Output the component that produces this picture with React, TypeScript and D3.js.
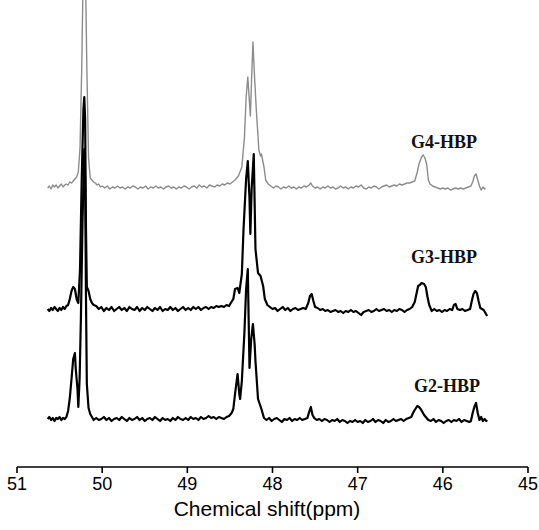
import React from "react";
import * as d3 from "d3";

const xTicks = [51, 50, 49, 48, 47, 46, 45];
const xTitle = "Chemical shift(ppm)";
const seriesNames = ["G4-HBP", "G3-HBP", "G2-HBP"];

// [ppm, intensity] (arbitrary units, baseline = 0)
const g4: [number, number][] = [
  [50.64,0],[50.62,2],[50.60,-1],[50.58,3],[50.56,1],[50.54,3],[50.52,0],[50.50,2],[50.48,4],[50.46,1],[50.44,3],[50.42,4],[50.40,3],[50.38,6],[50.36,5],[50.34,7],[50.32,9],[50.30,11],[50.28,16],[50.26,40],[50.24,120],[50.22,230],[50.21,260],[50.20,240],[50.18,120],[50.16,30],[50.14,10],[50.12,8],[50.10,6],[50.08,5],[50.06,3],[50.04,4],[50.02,1],[50.00,2],[49.97,0],[49.94,2],[49.91,-1],[49.88,1],[49.85,0],[49.82,2],[49.79,0],[49.76,1],[49.73,-1],[49.70,1],[49.67,0],[49.64,2],[49.61,1],[49.58,-1],[49.55,1],[49.52,0],[49.49,2],[49.46,-1],[49.43,1],[49.40,0],[49.37,2],[49.34,0],[49.31,1],[49.28,-1],[49.25,1],[49.22,2],[49.19,0],[49.16,1],[49.13,-1],[49.10,1],[49.07,0],[49.04,2],[49.01,1],[48.98,-1],[48.95,1],[48.92,2],[48.89,0],[48.86,3],[48.83,1],[48.80,2],[48.77,0],[48.74,3],[48.71,2],[48.68,1],[48.65,3],[48.62,2],[48.59,4],[48.56,3],[48.53,5],[48.50,4],[48.47,6],[48.44,8],[48.40,12],[48.36,21],[48.33,50],[48.31,90],[48.29,111],[48.27,85],[48.26,72],[48.245,110],[48.23,146],[48.21,110],[48.19,78],[48.16,38],[48.14,32],[48.13,34],[48.10,21],[48.08,8],[48.05,4],[48.02,2],[47.99,0],[47.96,2],[47.93,1],[47.90,-1],[47.87,1],[47.84,0],[47.81,2],[47.78,0],[47.75,1],[47.72,-1],[47.69,1],[47.66,0],[47.63,2],[47.60,1],[47.57,3],[47.55,5],[47.53,2],[47.50,0],[47.47,1],[47.44,-1],[47.41,1],[47.38,0],[47.35,2],[47.32,0],[47.29,1],[47.26,-1],[47.23,0],[47.20,2],[47.17,0],[47.14,1],[47.11,-1],[47.08,1],[47.05,0],[47.02,2],[46.99,1],[46.96,3],[46.93,0],[46.90,-1],[46.87,1],[46.84,0],[46.81,2],[46.78,1],[46.75,-1],[46.72,1],[46.69,2],[46.66,3],[46.63,1],[46.60,2],[46.57,3],[46.54,2],[46.51,4],[46.48,3],[46.45,4],[46.42,5],[46.39,5],[46.36,6],[46.33,7],[46.30,16],[46.28,24],[46.25,31],[46.23,33],[46.21,30],[46.19,24],[46.17,8],[46.15,4],[46.12,2],[46.09,1],[46.06,0],[46.03,-1],[46.00,0],[45.97,-1],[45.94,0],[45.91,-2],[45.88,-1],[45.85,0],[45.82,-1],[45.79,0],[45.76,-1],[45.73,0],[45.70,1],[45.67,2],[45.65,6],[45.63,12],[45.61,14],[45.59,8],[45.57,2],[45.55,-2],[45.53,1],[45.51,-1],[45.50,0]
];

const g3: [number, number][] = [
  [50.64,0],[50.62,-2],[50.60,1],[50.58,-1],[50.56,2],[50.54,0],[50.52,-2],[50.50,1],[50.48,-1],[50.46,2],[50.44,0],[50.42,3],[50.40,4],[50.38,10],[50.36,18],[50.34,22],[50.32,20],[50.30,10],[50.28,6],[50.26,40],[50.24,130],[50.22,200],[50.21,212],[50.20,190],[50.19,80],[50.18,22],[50.16,18],[50.14,10],[50.12,6],[50.10,4],[50.07,3],[50.04,0],[50.01,2],[49.98,-2],[49.95,1],[49.92,-1],[49.89,2],[49.86,-2],[49.83,0],[49.80,2],[49.77,-1],[49.74,1],[49.71,-2],[49.68,2],[49.65,0],[49.62,-1],[49.59,2],[49.56,-2],[49.53,1],[49.50,-1],[49.47,2],[49.44,0],[49.41,-2],[49.38,1],[49.35,-1],[49.32,2],[49.29,-2],[49.26,0],[49.23,-1],[49.20,2],[49.17,-1],[49.14,1],[49.11,-2],[49.08,0],[49.05,2],[49.02,-1],[48.99,1],[48.96,-1],[48.93,2],[48.90,0],[48.87,2],[48.84,-1],[48.81,1],[48.78,2],[48.75,0],[48.72,2],[48.69,1],[48.66,3],[48.63,2],[48.60,3],[48.57,2],[48.54,4],[48.51,3],[48.49,6],[48.46,10],[48.44,20],[48.41,21],[48.39,16],[48.36,35],[48.34,80],[48.31,130],[48.29,148],[48.27,110],[48.26,75],[48.245,120],[48.22,155],[48.20,60],[48.17,36],[48.14,33],[48.11,23],[48.09,10],[48.06,4],[48.03,2],[48.00,0],[47.97,1],[47.94,-2],[47.91,0],[47.88,2],[47.85,-1],[47.82,1],[47.79,-2],[47.76,0],[47.73,1],[47.70,-1],[47.67,0],[47.64,1],[47.61,0],[47.58,6],[47.56,13],[47.54,15],[47.52,8],[47.50,2],[47.47,1],[47.44,-1],[47.41,0],[47.38,-2],[47.35,-1],[47.32,-3],[47.29,-2],[47.26,-1],[47.23,-3],[47.20,-2],[47.17,-4],[47.14,-2],[47.11,-3],[47.08,-1],[47.05,-3],[47.02,-2],[46.99,-4],[46.96,-6],[46.93,-3],[46.90,-2],[46.87,-1],[46.84,-3],[46.81,-2],[46.78,0],[46.75,-2],[46.72,-1],[46.69,0],[46.66,-2],[46.63,-1],[46.60,-3],[46.57,-1],[46.54,-2],[46.51,0],[46.48,-1],[46.45,-3],[46.42,-1],[46.39,0],[46.36,2],[46.33,7],[46.31,15],[46.29,23],[46.27,24],[46.25,26],[46.22,25],[46.20,22],[46.18,12],[46.16,4],[46.13,-2],[46.10,0],[46.07,-2],[46.04,-1],[46.01,-3],[45.98,-1],[45.95,-2],[45.92,0],[45.89,-1],[45.87,4],[45.85,5],[45.83,0],[45.80,-1],[45.77,0],[45.74,-2],[45.71,-1],[45.68,0],[45.66,8],[45.64,15],[45.62,18],[45.60,16],[45.58,8],[45.56,1],[45.54,0],[45.52,-1],[45.50,-4],[45.48,-7]
];

const g2: [number, number][] = [
  [50.64,0],[50.62,2],[50.60,-1],[50.58,1],[50.56,-2],[50.54,1],[50.52,0],[50.50,2],[50.48,-1],[50.46,1],[50.44,0],[50.42,2],[50.40,8],[50.38,21],[50.36,40],[50.34,60],[50.32,66],[50.31,50],[50.29,30],[50.28,12],[50.265,40],[50.25,100],[50.23,200],[50.21,270],[50.20,240],[50.19,120],[50.18,35],[50.16,11],[50.14,5],[50.12,2],[50.10,-1],[50.07,1],[50.04,-1],[50.01,0],[49.98,2],[49.95,-1],[49.92,1],[49.89,-2],[49.86,0],[49.83,1],[49.80,-1],[49.77,2],[49.74,0],[49.71,-2],[49.68,1],[49.65,-1],[49.62,0],[49.59,2],[49.56,-1],[49.53,1],[49.50,-2],[49.47,0],[49.44,1],[49.41,-1],[49.38,2],[49.35,0],[49.32,-2],[49.29,1],[49.26,-1],[49.23,0],[49.20,-2],[49.17,1],[49.14,-1],[49.11,2],[49.08,0],[49.05,-1],[49.02,1],[48.99,-1],[48.96,2],[48.93,0],[48.90,1],[48.87,-1],[48.84,2],[48.81,0],[48.78,1],[48.75,3],[48.72,1],[48.69,2],[48.66,0],[48.63,2],[48.60,1],[48.57,0],[48.54,2],[48.51,3],[48.48,6],[48.46,10],[48.44,25],[48.41,45],[48.39,25],[48.38,20],[48.36,38],[48.33,86],[48.31,130],[48.29,150],[48.28,100],[48.27,51],[48.25,80],[48.23,95],[48.21,75],[48.20,58],[48.17,20],[48.15,15],[48.13,10],[48.10,1],[48.07,-1],[48.04,1],[48.01,-2],[47.98,0],[47.95,1],[47.92,-1],[47.89,-3],[47.86,0],[47.83,-1],[47.80,1],[47.77,-2],[47.74,0],[47.71,-1],[47.68,1],[47.65,-1],[47.62,0],[47.59,1],[47.57,7],[47.55,12],[47.53,4],[47.51,1],[47.48,-1],[47.45,0],[47.42,-2],[47.39,0],[47.36,-1],[47.33,-3],[47.30,-1],[47.27,-2],[47.24,0],[47.21,-3],[47.18,-1],[47.15,-2],[47.12,-4],[47.09,-2],[47.06,-3],[47.03,-1],[47.00,-3],[46.97,-2],[46.94,-4],[46.91,-1],[46.88,-3],[46.85,-2],[46.82,0],[46.79,-3],[46.76,-1],[46.73,-2],[46.70,-4],[46.67,-1],[46.64,-3],[46.61,-2],[46.58,0],[46.55,-2],[46.52,-1],[46.49,0],[46.46,-2],[46.43,0],[46.40,1],[46.37,2],[46.35,6],[46.33,9],[46.30,13],[46.28,12],[46.26,10],[46.24,7],[46.22,4],[46.19,1],[46.17,-1],[46.14,-2],[46.11,0],[46.08,-3],[46.05,-1],[46.02,-2],[45.99,-4],[45.96,-2],[45.93,-1],[45.90,-3],[45.87,-1],[45.84,-2],[45.81,0],[45.78,-3],[45.75,-1],[45.72,-2],[45.69,-3],[45.67,-2],[45.65,6],[45.63,12],[45.61,16],[45.59,6],[45.57,-1],[45.55,2],[45.53,-2],[45.51,0],[45.49,-2],[45.48,-1]
];

const W = 539;
const H = 530;

export default function App() {
  const x = d3.scaleLinear().domain([51, 45]).range([17, 528]);
  const axisY = 467;
  const traces = [
    { name: seriesNames[0], data: g4, base: 188, color: "#8c8c8c", width: 1.4, labelX: 411, labelY: 148 },
    { name: seriesNames[1], data: g3, base: 309, color: "#000", width: 2.2, labelX: 411, labelY: 263 },
    { name: seriesNames[2], data: g2, base: 419, color: "#000", width: 2.2, labelX: 414, labelY: 392 },
  ];
  return (
    <div style={{ position: "fixed", left: 0, top: 0 }}>
      <svg width={W} height={H} style={{ display: "block", background: "#fff" }}>
        {traces.map((t) => {
          const y = d3.scaleLinear().domain([0, 100]).range([t.base, t.base - 100]);
          const line = d3
            .line<[number, number]>()
            .x((d) => x(d[0]))
            .y((d) => y(d[1]));
          return (
            <g key={t.name}>
              <path d={line(t.data) || ""} fill="none" stroke={t.color} strokeWidth={t.width} strokeLinejoin="round" />
              <text x={t.labelX} y={t.labelY} fontFamily="'Liberation Serif', 'Times New Roman', serif" fontSize={18} fontWeight="bold" fill="#111">
                {t.name}
              </text>
            </g>
          );
        })}
        <line x1={x(51)} x2={x(45)} y1={axisY} y2={axisY} stroke="#000" strokeWidth={1.6} />
        {xTicks.map((v) => (
          <g key={v}>
            <line x1={x(v)} x2={x(v)} y1={axisY} y2={axisY + 6} stroke="#000" strokeWidth={1.6} />
            <text x={x(v)} y={490} textAnchor="middle" fontFamily="'Liberation Sans', Arial, sans-serif" fontSize={18} fill="#000">
              {v}
            </text>
          </g>
        ))}
        <text x={267} y={516} textAnchor="middle" fontFamily="'Liberation Sans', Arial, sans-serif" fontSize={21} fill="#000">
          {xTitle}
        </text>
      </svg>
    </div>
  );
}
